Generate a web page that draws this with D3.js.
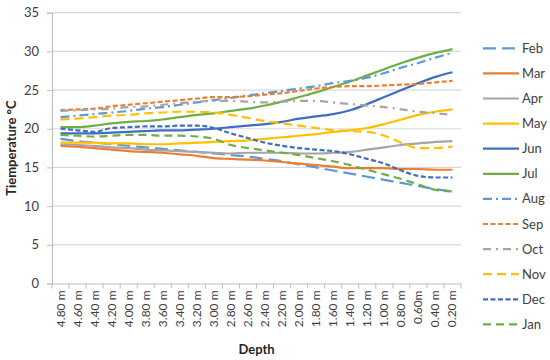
<!DOCTYPE html>
<html><head><meta charset="utf-8">
<script src="https://cdn.jsdelivr.net/npm/d3@7"></script>
<style>
html,body{margin:0;padding:0;background:#fff;}
svg{display:block;font-family:Lato,"Open Sans",sans-serif;}
</style></head>
<body><svg id="c" width="550" height="360"></svg>
<script>
const depths = ["4.80 m","4.60 m","4.40 m","4.20 m","4.00 m","3.80 m","3.60 m","3.40 m","3.20 m","3.00 m","2.80 m","2.60 m","2.40 m","2.20 m","2.00 m","1.80 m","1.60 m","1.40 m","1.20 m","1.00 m","0.80 m","0.60m","0.40 m","0.20 m"];
const yTicks = [0,5,10,15,20,25,30,35];
const months = ["Feb","Mar","Apr","May","Jun","Jul","Aug","Sep","Oct","Nov","Dec","Jan"];
const feb = [18.7,18.4,18.2,18.0,17.8,17.6,17.4,17.2,17.0,16.8,16.6,16.4,16.1,15.8,15.4,15.0,14.6,14.2,13.8,13.4,13.0,12.6,12.2,11.9];
const mar = [17.8,17.7,17.5,17.3,17.1,17.0,16.9,16.7,16.5,16.2,16.1,16.0,15.9,15.7,15.5,15.3,15.1,14.9,14.9,14.9,14.8,14.8,14.7,14.7];
const apr = [18.0,17.9,17.8,17.6,17.5,17.3,17.2,17.1,17.0,16.9,16.8,16.9,16.9,16.9,16.8,16.8,16.9,17.0,17.3,17.6,17.9,18.1,18.3,18.4];
const may = [18.2,18.2,18.2,18.1,18.1,18.0,18.0,18.1,18.2,18.3,18.4,18.5,18.7,18.9,19.1,19.3,19.6,19.8,20.1,20.6,21.2,21.8,22.2,22.5];
const jun = [19.4,19.4,19.4,19.5,19.6,19.7,19.8,19.8,19.9,20.0,20.2,20.4,20.6,20.9,21.3,21.6,21.9,22.4,23.2,24.1,25.0,25.9,26.7,27.3];
const jul = [20.2,20.2,20.4,20.7,20.9,21.0,21.2,21.5,21.8,22.0,22.3,22.6,23.0,23.5,24.1,24.7,25.4,26.1,26.9,27.7,28.5,29.2,29.8,30.3];
const aug = [21.5,21.7,21.9,22.1,22.3,22.6,22.8,23.1,23.4,23.7,24.0,24.3,24.6,24.9,25.2,25.5,25.9,26.2,26.6,27.2,27.9,28.5,29.2,29.8];
const sep = [22.4,22.5,22.6,22.9,23.1,23.3,23.5,23.7,23.9,24.1,24.1,24.2,24.4,24.6,24.9,25.2,25.4,25.5,25.5,25.6,25.7,25.8,26.0,26.2];
const oct = [22.3,22.4,22.5,22.6,22.8,22.9,23.1,23.3,23.5,23.6,23.6,23.5,23.4,23.5,23.6,23.6,23.4,23.2,23.0,22.8,22.5,22.2,22.0,21.8];
const nov = [21.2,21.3,21.5,21.7,21.8,22.0,22.1,22.2,22.2,22.1,21.8,21.4,21.0,20.7,20.4,20.1,19.8,19.7,19.6,19.1,18.2,17.5,17.5,17.7];
const dec = [20.0,19.8,19.6,20.1,20.2,20.3,20.3,20.4,20.4,20.1,19.4,18.8,18.2,17.8,17.5,17.3,17.1,16.7,16.1,15.5,14.6,13.9,13.7,13.7];
const jan = [19.2,19.1,19.0,19.1,19.2,19.2,19.1,19.1,19.0,18.7,17.9,17.5,17.2,16.9,16.6,16.2,15.8,15.3,14.7,14.1,13.5,12.8,12.1,11.9];

const values = [feb,mar,apr,may,jun,jul,aug,sep,oct,nov,dec,jan];
const colors = ["#5B9BD5","#ED7D31","#A5A5A5","#FFC000","#3F6EC0","#70AD47","#5B9BD5","#ED7D31","#A5A5A5","#FFC000","#3F6EC0","#70AD47"];
const dashes = ["13,6",null,null,null,null,null,"9,4,2,4","5,2.5","8,5,2,5","9,5","5,2.5","8,5"];

const svg = d3.select("#c");
const L = 52, R = 461, T = 12.7, B = 283.5;
const x = d3.scaleBand().domain(depths).range([L, R]).padding(0);
const y = d3.scaleLinear().domain([0, 35]).range([B, T]);

// gridlines
svg.append("g").selectAll("line").data(yTicks.filter(d => d > 0)).join("line")
  .attr("x1", L).attr("x2", R).attr("y1", d => y(d)).attr("y2", d => y(d))
  .attr("stroke", "#d9d9d9").attr("stroke-width", 1.2);

// y axis
const ya = svg.append("g").attr("transform", `translate(${L},0)`)
  .call(d3.axisLeft(y).tickValues(yTicks).tickSize(5).tickPadding(8));
ya.select(".domain").attr("stroke", "#bfbfbf").attr("stroke-width", 1.2);
ya.selectAll(".tick line").attr("stroke", "#bfbfbf");
ya.selectAll("text").attr("font-size", 13).attr("fill", "#404040").attr("font-family", "Lato, sans-serif");

// x axis
const xa = svg.append("g").attr("transform", `translate(0,${B})`)
  .call(d3.axisBottom(x).tickSize(0).tickPadding(0));
xa.select(".domain").attr("stroke", "#bfbfbf").attr("stroke-width", 1.2);
xa.selectAll(".tick text").remove();
// boundary tick marks
const bounds = depths.map(d => x(d)).concat([x(depths[depths.length-1]) + x.bandwidth()]);
svg.append("g").selectAll("line").data(bounds).join("line")
  .attr("x1", d => d).attr("x2", d => d).attr("y1", B).attr("y2", B + 5)
  .attr("stroke", "#bfbfbf").attr("stroke-width", 1);
// rotated labels
svg.append("g").selectAll("text").data(depths).join("text")
  .attr("transform", d => `translate(${x(d) + x.bandwidth()/2 + 4},${B + 7}) rotate(-90)`)
  .attr("text-anchor", "end").attr("font-size", 12).attr("fill", "#404040")
  .text(d => d);

// axis titles
svg.append("text").attr("x", (L + R)/2).attr("y", 354).attr("text-anchor", "middle")
  .attr("font-size", 13).attr("font-weight", "bold").attr("fill", "#262626").text("Depth");
svg.append("text").attr("transform", `translate(16,${(T + B)/2}) rotate(-90)`)
  .attr("text-anchor", "middle").attr("font-size", 13).attr("font-weight", "bold").attr("fill", "#262626")
  .text("Tiemperature °C");

// lines
const line = d3.line().x((d, i) => x(depths[i]) + x.bandwidth()/2).y(d => y(d)).curve(d3.curveMonotoneX);
months.forEach((m, k) => {
  svg.append("path").datum(values[k]).attr("d", line)
    .attr("fill", "none").attr("stroke", colors[k]).attr("stroke-width", 2.2)
    .attr("stroke-dasharray", dashes[k]);
});

// legend
const lg = svg.append("g");
months.forEach((m, k) => {
  const yy = 48.3 + k * 25.1;
  lg.append("line").attr("x1", 483).attr("x2", 519).attr("y1", yy).attr("y2", yy)
    .attr("stroke", colors[k]).attr("stroke-width", 2.2).attr("stroke-dasharray", dashes[k]);
  lg.append("text").attr("x", 522).attr("y", yy + 4.5).attr("font-size", 13).attr("fill", "#404040").text(m);
});
</script></body></html>
